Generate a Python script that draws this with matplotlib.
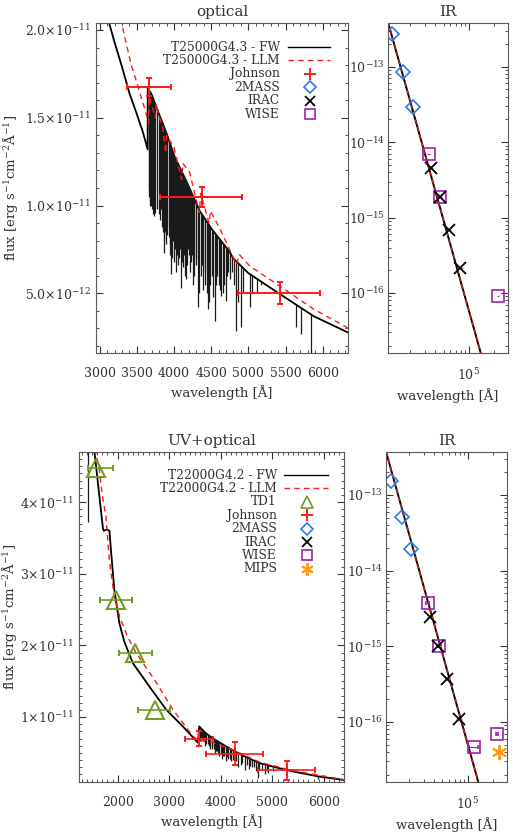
import numpy as np
import matplotlib
matplotlib.use('Agg')
import matplotlib.pyplot as plt
from matplotlib.ticker import MultipleLocator, LogLocator, NullFormatter

plt.rcParams['font.family'] = ['DejaVu Serif']
plt.rcParams['mathtext.fontset'] = 'dejavuserif'

## ================= top row : T25000G4.3 =================
## FW model continuum (wavelength in A, flux in erg/s/cm2/A)
opt1_fw_w = [3100, 3200, 3300, 3400, 3500, 3580, 3645, 3646, 3700, 3826, 3900,
             4006, 4164, 4344, 4500, 4750, 4795, 5000, 5427, 5878, 6350]
opt1_fw_f = [2.08e-11, 1.93e-11, 1.79e-11, 1.64e-11, 1.52e-11, 1.42e-11, 1.32e-11,
             1.67e-11, 1.63e-11, 1.49e-11, 1.41e-11, 1.28e-11, 1.14e-11, 0.97e-11,
             0.87e-11, 0.735e-11, 0.70e-11, 0.615e-11, 0.495e-11, 0.37e-11, 0.275e-11]
## absorption lines of the FW model: centre and bottom of each line
opt1_line_w = [3662, 3667, 3671, 3676, 3682, 3687, 3692, 3697, 3704, 3712, 3722,
               3734, 3750, 3771, 3798, 3810, 3820, 3835, 3845, 3855, 3862, 3871,
               3880, 3889, 3900, 3912, 3926, 3940, 3950, 3961, 3970, 3985, 3995,
               4009, 4026, 4040, 4055, 4070, 4080, 4096, 4110, 4121, 4132, 4144,
               4160, 4175, 4185, 4200, 4215, 4230, 4240, 4250, 4275, 4290, 4300,
               4317, 4340, 4360, 4375, 4389, 4410, 4420, 4437, 4457, 4471, 4490,
               4510, 4525, 4547, 4560, 4580, 4600, 4620, 4637, 4660, 4675, 4696,
               4710, 4730, 4750, 4780, 4810, 4831, 4861, 4895, 4922, 5021, 5048,
               5120, 5165, 5643, 5707, 5842]
opt1_line_f = [1.05e-11, 1.10e-11, 1.00e-11, 1.05e-11, 1.02e-11, 1.10e-11, 1.00e-11,
               1.05e-11, 0.98e-11, 1.00e-11, 0.95e-11, 0.94e-11, 0.96e-11, 0.98e-11,
               0.95e-11, 0.92e-11, 0.98e-11, 0.88e-11, 0.85e-11, 0.90e-11, 0.80e-11,
               0.73e-11, 0.85e-11, 0.78e-11, 0.83e-11, 0.88e-11, 0.82e-11, 0.78e-11,
               0.72e-11, 0.61e-11, 0.70e-11, 0.80e-11, 0.68e-11, 0.75e-11, 0.62e-11,
               0.72e-11, 0.66e-11, 0.70e-11, 0.75e-11, 0.53e-11, 0.68e-11, 0.65e-11,
               0.72e-11, 0.60e-11, 0.58e-11, 0.66e-11, 0.75e-11, 0.72e-11, 0.62e-11,
               0.68e-11, 0.72e-11, 0.55e-11, 0.60e-11, 0.66e-11, 0.70e-11, 0.42e-11,
               0.50e-11, 0.60e-11, 0.66e-11, 0.52e-11, 0.55e-11, 0.62e-11, 0.50e-11,
               0.41e-11, 0.45e-11, 0.55e-11, 0.60e-11, 0.48e-11, 0.34e-11, 0.55e-11,
               0.60e-11, 0.55e-11, 0.52e-11, 0.485e-11, 0.50e-11, 0.55e-11, 0.456e-11,
               0.60e-11, 0.62e-11, 0.58e-11, 0.62e-11, 0.55e-11, 0.286e-11, 0.45e-11,
               0.31e-11, 0.50e-11, 0.42e-11, 0.50e-11, 0.50e-11, 0.55e-11, 0.307e-11,
               0.27e-11, 0.10e-11]
## LLM model
opt1_llm_w = [3250, 3419, 3600, 3660, 3665, 3750, 3760, 3803, 3850, 3889, 3900,
              4000, 4102, 4120, 4209, 4340, 4360, 4471, 4490, 4615, 4840, 4880,
              5021, 5427, 5878, 6350]
opt1_llm_f = [2.12e-11, 1.81e-11, 1.56e-11, 1.47e-11, 1.62e-11, 1.50e-11, 1.58e-11,
              1.50e-11, 1.44e-11, 1.30e-11, 1.40e-11, 1.33e-11, 1.15e-11, 1.24e-11,
              1.19e-11, 0.96e-11, 1.07e-11, 0.90e-11, 0.97e-11, 0.87e-11, 0.665e-11,
              0.72e-11, 0.655e-11, 0.54e-11, 0.41e-11, 0.30e-11]
## Johnson U B V
john1_w = [3659, 4371, 5427]
john1_f = [1.676e-11, 1.05e-11, 0.50e-11]
john1_wlo = [296, 565, 572]
john1_whi = [295, 537, 543]
john1_ferr = [0.05e-11, 0.057e-11, 0.062e-11]
## infrared photometry
mass1_w = [12350, 16620, 21590]
mass1_f = [2.74e-13, 8.6e-14, 2.95e-14]
irac1_w = [35500, 44930, 57310, 78720]
irac1_f = [4.5e-15, 1.85e-15, 6.9e-16, 2.15e-16]
wise1_w = [33530, 46030, 220900]
wise1_f = [6.9e-15, 1.9e-15, 9.1e-17]
ir1_w = [1.1e4, 1.5e5]
ir1_fw = [3.9e-13, 1.15e-17]
ir1_llm = [3.9e-13, 1.15e-17]

## ================= bottom row : T22000G4.2 =================
opt2_fw_w = [1400, 1534, 1586, 1650, 1715, 1730, 1790, 1840, 1870, 1936, 2033,
             2130, 2297, 2621, 2945, 3268, 3559, 3580, 3700, 3850, 4111, 4400,
             4757, 5000, 5404, 5900, 6400]
opt2_fw_f = [5.8e-11, 4.80e-11, 4.47e-11, 4.05e-11, 3.63e-11, 3.60e-11, 3.62e-11,
             3.60e-11, 3.33e-11, 2.77e-11, 2.31e-11, 2.05e-11, 1.75e-11, 1.42e-11,
             1.10e-11, 0.866e-11, 0.64e-11, 0.87e-11, 0.78e-11, 0.70e-11, 0.587e-11,
             0.47e-11, 0.356e-11, 0.31e-11, 0.24e-11, 0.17e-11, 0.12e-11]
opt2_line_w = [1417, 3600, 3615, 3630, 3645, 3660, 3680, 3700, 3720, 3750, 3775,
               3800, 3820, 3835, 3860, 3889, 3910, 3930, 3950, 3970, 4000, 4026,
               4050, 4070, 4102, 4120, 4144, 4170, 4200, 4230, 4267, 4300, 4340,
               4388, 4420, 4471, 4500, 4541, 4560, 4600, 4640, 4686, 4724, 4750,
               4800, 4861, 4900, 4922, 5016, 5876]
opt2_line_f = [3.72e-11, 0.66e-11, 0.70e-11, 0.68e-11, 0.72e-11, 0.66e-11, 0.66e-11,
               0.60e-11, 0.63e-11, 0.62e-11, 0.60e-11, 0.55e-11, 0.58e-11, 0.55e-11,
               0.55e-11, 0.50e-11, 0.52e-11, 0.52e-11, 0.50e-11, 0.46e-11, 0.48e-11,
               0.42e-11, 0.45e-11, 0.45e-11, 0.38e-11, 0.44e-11, 0.42e-11, 0.42e-11,
               0.38e-11, 0.40e-11, 0.40e-11, 0.38e-11, 0.30e-11, 0.33e-11, 0.36e-11,
               0.26e-11, 0.33e-11, 0.27e-11, 0.31e-11, 0.30e-11, 0.30e-11, 0.25e-11,
               0.15e-11, 0.26e-11, 0.26e-11, 0.20e-11, 0.25e-11, 0.22e-11, 0.24e-11,
               0.14e-11]
opt2_llm_w = [1560, 1645, 1700, 1773, 1838, 1935, 2039, 2194, 2363, 2751, 3074,
              3462, 3600, 3700, 3900, 4238, 4757, 5404, 6400]
opt2_llm_f = [4.75e-11, 4.45e-11, 4.10e-11, 3.80e-11, 3.19e-11, 2.68e-11, 2.40e-11,
              2.12e-11, 1.89e-11, 1.48e-11, 1.10e-11, 0.73e-11, 0.66e-11, 0.68e-11,
              0.63e-11, 0.54e-11, 0.37e-11, 0.25e-11, 0.125e-11]
## TD1 photometry
td1_w = [1586, 1975, 2330, 2718]
td1_f = [4.47e-11, 2.63e-11, 1.89e-11, 1.10e-11]
td1_wlo = [163, 325, 311, 324]
td1_whi = [323, 310, 337, 292]
## Johnson U B V
john2_w = [3573, 4272, 5275]
john2_f = [0.70e-11, 0.49e-11, 0.254e-11]
john2_wlo = [272, 550, 551]
john2_whi = [277, 550, 550]
john2_ferr = [0.11e-11, 0.16e-11, 0.13e-11]
## infrared photometry
mass2_w = [12350, 16620, 21590]
mass2_f = [1.54e-13, 5.1e-14, 1.95e-14]
irac2_w = [35500, 44930, 57310, 78720]
irac2_f = [2.4e-15, 1.0e-15, 3.7e-16, 1.1e-16]
wise2_w = [33530, 46030, 117000, 220900]
wise2_f = [3.7e-15, 1.0e-15, 4.6e-17, 6.8e-17]
wise2_werr = [1500, 2000, 14000, 6000]
mips2_w = [236000]
mips2_f = [4.0e-17]
mips2_werr = [14000]
ir2_w = [1.08e4, 1.4e5]
ir2_fw = [3.75e-13, 1.3e-17]
ir2_llm = [3.75e-13, 1.3e-17]

RED = '#ff1a1a'
BLUE = '#2a7be4'
PURPLE = '#a020a8'
GREEN = '#6e9e22'
ORANGE = '#ff9a1a'
TXT = '0.2'

fig = plt.figure(figsize=(5.13, 8.33), dpi=100)
ax1 = fig.add_axes([0.1871, 0.5762, 0.4912, 0.3962])
ax2 = fig.add_axes([0.7563, 0.5762, 0.2339, 0.3962])
ax3 = fig.add_axes([0.1540, 0.0612, 0.5166, 0.3962])
ax4 = fig.add_axes([0.7524, 0.0612, 0.2359, 0.3962])


def spectrum(ax, cw, cf, lw_, lf):
    ## continuum plus absorption lines drawn as vertical spikes
    ax.plot(cw, cf, color='k', lw=1.3, zorder=2)
    top = np.interp(lw_, cw, cf)
    ax.vlines(lw_, lf, top, colors='0.1', lw=0.9, zorder=2)


def style(ax):
    ax.tick_params(which='both', direction='in', top=True, right=True,
                   labelsize=9, colors=TXT)
    ax.tick_params(which='major', length=5)
    ax.tick_params(which='minor', length=2.5)
    ax.tick_params(axis='x', pad=10)
    for s in ax.spines.values():
        s.set_color('0.35')


def legend(ax, rows, x_text, x_sym, y0):
    for i, (label, kind) in enumerate(rows):
        y = y0 - i * 0.0406
        ax.text(x_text, y, label, transform=ax.transAxes, ha='right', va='center',
                fontsize=8.8, color=TXT)
        if kind == 'fw':
            ax.plot([x_sym - 0.085, x_sym + 0.08], [y, y], color='k', lw=1,
                    transform=ax.transAxes)
        elif kind == 'llm':
            ax.plot([x_sym - 0.085, x_sym + 0.08], [y, y], color=RED, lw=1,
                    ls=(0, (4, 3)), transform=ax.transAxes)
        else:
            ax.plot([x_sym], [y], transform=ax.transAxes, ls='none', **kind)


M_JOHN = dict(marker='+', ms=10, mew=1.4, color=RED)
M_2MASS = dict(marker='D', ms=7, mew=1.2, mfc='none', mec=BLUE)
M_IRAC = dict(marker='x', ms=9, mew=1.3, color='k')
M_WISE = dict(marker='s', ms=9, mew=1.2, mfc='none', mec=PURPLE)
M_TD1 = dict(marker='^', ms=13, mew=1.5, mfc='none', mec=GREEN)
M_MIPS = dict(marker=(6, 2, 0), ms=11, mew=1.4, color=ORANGE)
## smaller symbols for the legend
L_JOHN = dict(M_JOHN, ms=9)
L_2MASS = dict(M_2MASS, ms=6)
L_IRAC = dict(M_IRAC, ms=7)
L_WISE = dict(M_WISE, ms=7)
L_TD1 = dict(M_TD1, ms=9, mew=1.2)
L_MIPS = dict(M_MIPS, ms=9)

## ---------------- optical (top left) ----------------
spectrum(ax1, opt1_fw_w, opt1_fw_f, opt1_line_w, opt1_line_f)
ax1.plot(opt1_llm_w, opt1_llm_f, color=RED, lw=1, ls=(0, (4, 3)), zorder=3)
ax1.errorbar(john1_w, john1_f, xerr=[john1_wlo, john1_whi], yerr=john1_ferr,
             ls='none', ecolor=RED, elinewidth=1.4, capsize=2.5, zorder=4, **M_JOHN)
ax1.set_xlim(2950, 6340)
ax1.set_ylim(1.6e-12, 2.04e-11)
ax1.set_xticks([3000, 3500, 4000, 4500, 5000, 5500, 6000])
ax1.xaxis.set_minor_locator(MultipleLocator(100))
ax1.set_yticks([5e-12, 1e-11, 1.5e-11, 2e-11])
ax1.set_yticklabels([r'5.0$\times$10$^{-12}$', r'1.0$\times$10$^{-11}$',
                     r'1.5$\times$10$^{-11}$', r'2.0$\times$10$^{-11}$'])
ax1.yaxis.set_minor_locator(MultipleLocator(1e-12))
style(ax1)
ax1.set_title('optical', fontsize=11, pad=5, color=TXT)
ax1.set_xlabel('wavelength [Å]', fontsize=9.5, color=TXT)
ax1.set_ylabel(r'flux [erg s$^{-1}$cm$^{-2}$Å$^{-1}$]', fontsize=9.5, color=TXT)
ax1.yaxis.set_label_coords(-0.30, 0.5)
legend(ax1, [('T25000G4.3 - FW', 'fw'), ('T25000G4.3 - LLM', 'llm'),
             ('Johnson', L_JOHN), ('2MASS', L_2MASS), ('IRAC', L_IRAC),
             ('WISE', L_WISE)], 0.730, 0.849, 0.927)

## ---------------- IR (top right) ----------------
ax2.plot(ir1_w, ir1_fw, color='k', lw=1.4)
ax2.plot(ir1_w, ir1_llm, color=RED, lw=0.8, ls=(0, (4, 3)))
ax2.plot(mass1_w, mass1_f, ls='none', **M_2MASS)
ax2.errorbar(wise1_w, wise1_f, xerr=[1500, 2000, 6000], ls='none',
             ecolor=PURPLE, elinewidth=0.8, **M_WISE)
ax2.errorbar(irac1_w, irac1_f, xerr=[2500, 3200, 4000, 5500], ls='none',
             ecolor='0.5', elinewidth=0.8, **M_IRAC)
ax2.set_xscale('log')
ax2.set_yscale('log')
ax2.set_xlim(1.1e4, 2.9e5)
ax2.set_ylim(1.6e-17, 3.8e-13)

## ---------------- UV+optical (bottom left) ----------------
spectrum(ax3, opt2_fw_w, opt2_fw_f, opt2_line_w, opt2_line_f)
ax3.plot(opt2_llm_w, opt2_llm_f, color=RED, lw=1, ls=(0, (4, 3)), zorder=3)
ax3.errorbar(td1_w, td1_f, xerr=[td1_wlo, td1_whi], ls='none', ecolor=GREEN,
             elinewidth=1.2, capsize=2.5, zorder=4, **M_TD1)
ax3.errorbar(john2_w, john2_f, xerr=[john2_wlo, john2_whi], yerr=john2_ferr,
             ls='none', ecolor=RED, elinewidth=1.2, capsize=2.5, zorder=4, **M_JOHN)
ax3.set_xlim(1250, 6390)
ax3.set_ylim(0.93e-12, 4.70e-11)
ax3.set_xticks([2000, 3000, 4000, 5000, 6000])
ax3.xaxis.set_minor_locator(MultipleLocator(100))
ax3.set_yticks([1e-11, 2e-11, 3e-11, 4e-11])
ax3.set_yticklabels([r'1$\times$10$^{-11}$', r'2$\times$10$^{-11}$',
                     r'3$\times$10$^{-11}$', r'4$\times$10$^{-11}$'])
ax3.yaxis.set_minor_locator(MultipleLocator(1e-12))
style(ax3)
ax3.set_title('UV+optical', fontsize=11, pad=5, color=TXT)
ax3.set_xlabel('wavelength [Å]', fontsize=9.5, color=TXT)
ax3.set_ylabel(r'flux [erg s$^{-1}$cm$^{-2}$Å$^{-1}$]', fontsize=9.5, color=TXT)
ax3.yaxis.set_label_coords(-0.225, 0.5)
legend(ax3, [('T22000G4.2 - FW', 'fw'), ('T22000G4.2 - LLM', 'llm'),
             ('TD1', L_TD1), ('Johnson', L_JOHN), ('2MASS', L_2MASS),
             ('IRAC', L_IRAC), ('WISE', L_WISE), ('MIPS', L_MIPS)],
       0.747, 0.860, 0.930)

## ---------------- IR (bottom right) ----------------
ax4.plot(ir2_w, ir2_fw, color='k', lw=1.4)
ax4.plot(ir2_w, ir2_llm, color=RED, lw=0.8, ls=(0, (4, 3)))
ax4.plot(mass2_w, mass2_f, ls='none', **M_2MASS)
ax4.errorbar(wise2_w, wise2_f, xerr=wise2_werr, ls='none', ecolor=PURPLE,
             elinewidth=0.8, capsize=1.5, **M_WISE)
ax4.errorbar(irac2_w, irac2_f, xerr=[2500, 3200, 4000, 5500], ls='none',
             ecolor='0.5', elinewidth=0.8, **M_IRAC)
ax4.errorbar(mips2_w, mips2_f, xerr=mips2_werr, ls='none', ecolor=ORANGE,
             elinewidth=0.8, capsize=1.5, **M_MIPS)
ax4.set_xscale('log')
ax4.set_yscale('log')
ax4.set_xlim(1.08e4, 2.9e5)
ax4.set_ylim(1.6e-17, 3.7e-13)

for ax in (ax2, ax4):
    ax.set_xticks([1e5])
    ax.set_xticklabels([r'10$^5$'])
    ax.xaxis.set_minor_locator(LogLocator(base=10, subs=np.arange(2, 10)))
    ax.xaxis.set_minor_formatter(NullFormatter())
    ax.set_yticks([1e-16, 1e-15, 1e-14, 1e-13])
    ax.set_yticklabels([r'10$^{-16}$', r'10$^{-15}$', r'10$^{-14}$', r'10$^{-13}$'])
    ax.yaxis.set_minor_locator(LogLocator(base=10, subs=np.arange(2, 10)))
    ax.yaxis.set_minor_formatter(NullFormatter())
    style(ax)
    ax.tick_params(axis='y', pad=2)
    ax.set_title('IR', fontsize=11, pad=5, color=TXT)
    ax.set_xlabel('wavelength [Å]', fontsize=9.5, color=TXT)

fig.savefig('out.png', dpi=100)
